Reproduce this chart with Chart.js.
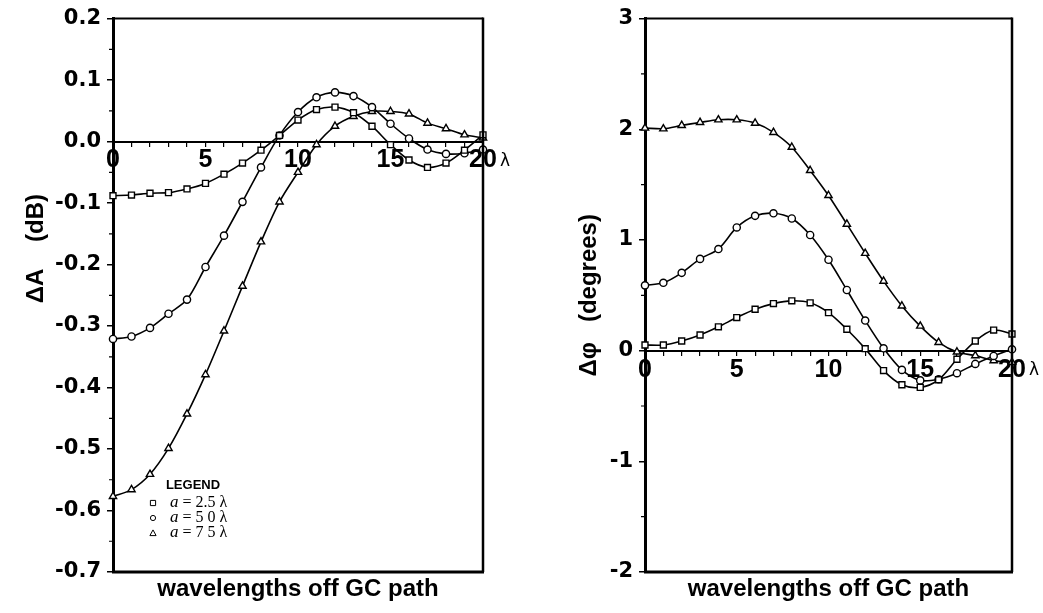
<!DOCTYPE html>
<html>
<head>
<meta charset="utf-8">
<script src="https://cdn.jsdelivr.net/npm/chart.js@4/dist/chart.umd.min.js"></script>
<style>
  body { margin: 0; background: #fff; }
  .panel { position: absolute; top: 0; }
</style>
</head>
<body>
<canvas id="ampChart" class="panel" width="520" height="613" style="left:0px"></canvas>
<canvas id="phaseChart" class="panel" width="513" height="613" style="left:530px"></canvas>
<script>
// wavelengths off the great-circle path
const offsets = [0, 1, 2, 3, 4, 5, 6, 7, 8, 9, 10, 11, 12, 13, 14, 15, 16, 17, 18, 19, 20];

// legend text, as printed
const seriesLabels = ['a = 2.5 λ', 'a = 5 0 λ', 'a = 7 5 λ'];
const seriesMarkers = ['rect', 'circle', 'triangle'];

// amplitude change, dB
const ampSmall = [-0.088, -0.087, -0.084, -0.083, -0.077, -0.068, -0.053, -0.035, -0.014, 0.010, 0.035,
  0.052, 0.056, 0.047, 0.025, -0.005, -0.030, -0.042, -0.035, -0.014, 0.011];
const ampMid = [-0.321, -0.317, -0.303, -0.280, -0.257, -0.204, -0.153, -0.098, -0.042, 0.010, 0.048,
  0.072, 0.080, 0.074, 0.056, 0.029, 0.005, -0.013, -0.020, -0.019, -0.013];
const ampLarge = [-0.577, -0.566, -0.541, -0.499, -0.443, -0.379, -0.308, -0.235, -0.163, -0.098, -0.050,
  -0.005, 0.025, 0.041, 0.049, 0.049, 0.045, 0.030, 0.021, 0.011, 0.006];

// phase change, degrees
const phaseSmall = [0.051, 0.051, 0.087, 0.141, 0.215, 0.299, 0.374, 0.425, 0.450, 0.432, 0.343,
  0.193, 0.018, -0.180, -0.308, -0.332, -0.263, -0.078, 0.087, 0.186, 0.150];
const phaseMid = [0.590, 0.613, 0.703, 0.829, 0.918, 1.113, 1.218, 1.241, 1.194, 1.045, 0.821,
  0.548, 0.272, 0.021, -0.174, -0.269, -0.258, -0.204, -0.120, -0.048, 0.012];
const phaseLarge = [2.011, 2.005, 2.035, 2.062, 2.086, 2.086, 2.056, 1.972, 1.838, 1.628, 1.402,
  1.143, 0.880, 0.628, 0.404, 0.222, 0.075, -0.012, -0.045, -0.090, -0.105];

const xTitle = 'wavelengths off GC path';
const yTickFont = { family: '"DejaVu Sans"', size: 21, weight: 'bold' };
const xTickFont = { family: '"Liberation Sans"', size: 25, weight: 'bold' };
const titleFont = { family: '"Liberation Sans"', size: 24, weight: 'bold' };

function makeDatasets(series) {
  return series.map((values, i) => ({
    label: seriesLabels[i],
    data: offsets.map((x, j) => ({ x, y: values[j] })),
    borderColor: '#000',
    borderWidth: 1.6,
    tension: 0.3,
    pointStyle: seriesMarkers[i],
    pointRadius: i === 1 ? 3.6 : 4.2,
    pointBackgroundColor: '#fff',
    pointBorderColor: '#000',
    pointBorderWidth: 1.4,
    clip: false
  }));
}

function drawMarker(ctx, style, x, y, r) {
  ctx.beginPath();
  if (style === 'rect') {
    ctx.rect(x - r, y - r, 2 * r, 2 * r);
  } else if (style === 'circle') {
    ctx.arc(x, y, r, 0, Math.PI * 2);
  } else {
    ctx.moveTo(x, y - r - 0.5);
    ctx.lineTo(x + r + 0.5, y + r);
    ctx.lineTo(x - r - 0.5, y + r);
    ctx.closePath();
  }
  ctx.stroke();
}

// box round the plot, minor y ticks and the λ after the last x label
const framePlugin = {
  id: 'frame',
  afterDraw(chart) {
    const { ctx, chartArea: a, scales } = chart;
    const y = scales.y;
    const x = scales.x;
    ctx.save();
    ctx.strokeStyle = '#000';
    ctx.lineWidth = 2;
    ctx.beginPath();
    ctx.moveTo(a.left, a.top);
    ctx.lineTo(a.right, a.top);
    ctx.stroke();
    ctx.lineWidth = 2.5;
    ctx.beginPath();
    ctx.moveTo(a.right, a.top - 1);
    ctx.lineTo(a.right, a.bottom);
    ctx.stroke();
    ctx.lineWidth = 3;
    ctx.beginPath();
    ctx.moveTo(a.left - 1, a.bottom);
    ctx.lineTo(a.right + 1, a.bottom);
    ctx.stroke();

    ctx.lineWidth = 1.2;
    ctx.beginPath();
    for (let i = 0; i < y.ticks.length - 1; i++) {
      const p = (y.getPixelForValue(y.ticks[i].value) + y.getPixelForValue(y.ticks[i + 1].value)) / 2;
      ctx.moveTo(a.left - 4, p);
      ctx.lineTo(a.left, p);
    }
    ctx.stroke();

    ctx.fillStyle = '#000';
    ctx.font = '17px "DejaVu Sans"';
    ctx.textAlign = 'left';
    ctx.textBaseline = 'middle';
    ctx.fillText('λ', x.getPixelForValue(x.max) + 17, y.getPixelForValue(0) + 20);
    ctx.restore();
  }
};

const legendPlugin = {
  id: 'paperLegend',
  afterDraw(chart) {
    const { ctx, chartArea: a } = chart;
    ctx.save();
    ctx.fillStyle = '#000';
    ctx.strokeStyle = '#000';
    ctx.lineWidth = 1;
    ctx.font = 'bold 13px "Liberation Sans"';
    ctx.textAlign = 'center';
    ctx.textBaseline = 'middle';
    ctx.fillText('LEGEND', a.left + 80, a.bottom - 87);
    chart.data.datasets.forEach((ds, i) => {
      const ry = a.bottom - 69 + i * 15;
      drawMarker(ctx, ds.pointStyle, a.left + 40, ry, 2.6);
      ctx.textAlign = 'left';
      ctx.font = 'italic 17px "Liberation Serif"';
      ctx.fillText('a', a.left + 57, ry);
      const w = ctx.measureText('a').width;
      ctx.font = '16px "Liberation Serif"';
      ctx.fillText(ds.label.slice(1), a.left + 57 + w, ry);
    });
    ctx.restore();
  }
};

function buildOptions(p) {
  return {
    responsive: false,
    animation: false,
    events: [],
    layout: { padding: { top: 15, right: p.padRight, bottom: 0, left: 0 } },
    plugins: { legend: { display: false }, tooltip: { enabled: false } },
    scales: {
      x: {
        type: 'linear',
        position: { y: 0 },
        min: 0,
        max: 20,
        afterFit: s => { s.height = 0; },
        border: { color: '#000', width: 2 },
        grid: { drawOnChartArea: false, color: '#000', lineWidth: 1.2, tickLength: 4 },
        ticks: {
          stepSize: 1,
          maxTicksLimit: 21,
          autoSkip: false,
          maxRotation: 0,
          padding: 0,
          color: '#000',
          font: xTickFont,
          callback: v => (v % 5 === 0 ? String(v) : '')
        }
      },
      xb: {
        type: 'linear',
        position: 'bottom',
        min: 0,
        max: 20,
        afterFit: s => { s.height = 41; },
        border: { display: false },
        grid: { display: false },
        ticks: { display: false },
        title: { display: true, text: xTitle, color: '#000', font: titleFont, padding: { top: 0, bottom: 9 } }
      },
      y: {
        type: 'linear',
        min: p.yMin,
        max: p.yMax,
        afterFit: s => { s.width = p.axisWidth; },
        border: { color: '#000', width: 3 },
        grid: { drawOnChartArea: false, color: '#000', lineWidth: 1.5, tickLength: 6 },
        ticks: {
          stepSize: p.yStep,
          maxTicksLimit: p.maxTicks,
          padding: 6,
          color: '#000',
          font: yTickFont,
          callback: p.yFormat
        },
        title: { display: true, text: p.yTitle, color: '#000', font: titleFont, padding: { top: p.titlePad, bottom: 0 } }
      }
    }
  };
}

new Chart(document.getElementById('ampChart'), {
  type: 'line',
  data: { datasets: makeDatasets([ampSmall, ampMid, ampLarge]) },
  options: buildOptions({
    yMin: -0.7, yMax: 0.2, yStep: 0.1, maxTicks: 10,
    yFormat: v => (Math.abs(v) < 1e-9 ? 0 : v).toFixed(1),
    // leading blanks lift the label to where the paper prints it
    yTitle: '              ΔA    (dB)', titlePad: 22, axisWidth: 113, padRight: 37
  }),
  plugins: [framePlugin, legendPlugin]
});

new Chart(document.getElementById('phaseChart'), {
  type: 'line',
  data: { datasets: makeDatasets([phaseSmall, phaseMid, phaseLarge]) },
  options: buildOptions({
    yMin: -2, yMax: 3, yStep: 1, maxTicks: 6,
    yFormat: v => String(Math.round(v)),
    yTitle: 'Δφ   (degrees)', titlePad: 45, axisWidth: 115, padRight: 31
  }),
  plugins: [framePlugin]
});
</script>
</body>
</html>
